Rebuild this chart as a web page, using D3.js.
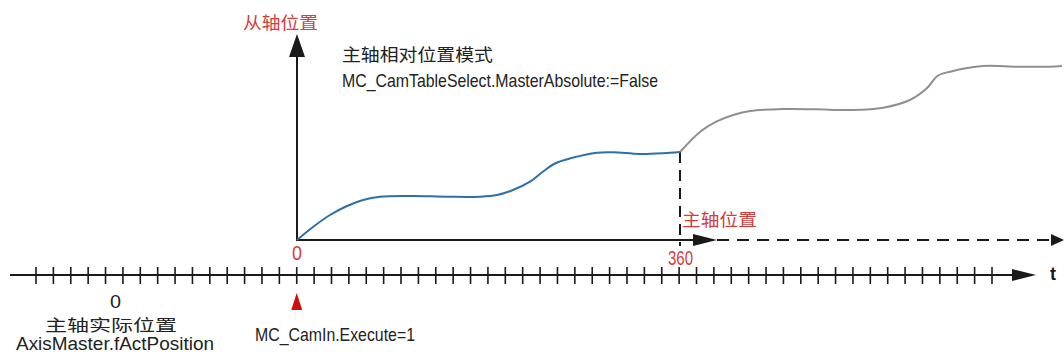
<!DOCTYPE html>
<html>
<head>
<meta charset="utf-8">
<script src="https://cdn.jsdelivr.net/npm/d3@7"></script>
<style>
  body { margin: 0; background: #fff; }
  svg { display: block; }
  text { font-family: "Liberation Sans", Arial, "Noto Sans CJK SC", sans-serif; }
  .cjk { font-family: "Noto Sans CJK SC", sans-serif; }
</style>
</head>
<body>
<div id="chart"></div>
<script>
// master angle (deg) vs slave position, first cam cycle (blue) and next one (gray)
const camMaster1 = [0, 15, 31, 47, 62, 78, 109, 141, 172, 188, 203, 219, 231, 243, 257, 282, 297, 322, 344, 360];
const camSlave1 = [0, 14.8, 28.4, 38.6, 45.5, 49.2, 50, 49.2, 49.2, 51.1, 56.8, 66.3, 77.6, 87.2, 92.8, 99.2, 99.7, 97.7, 98.5, 100];
const camMaster2 = [360, 379, 394, 410, 426, 457, 489, 520, 551, 576, 592, 602, 614, 645, 677, 708, 719];
const camSlave2 = [100, 123, 134.4, 142, 146.6, 148.9, 148.5, 147.7, 150.3, 159.1, 172.4, 186.4, 191.3, 197.7, 196.9, 196.9, 197.7];

// time axis tick marks (index) and marker positions
const timeTicks = d3.range(56);
const camInTick = 15;      // MC_CamIn.Execute=1
const masterTickLabels = [0, 360];

const W = 1064, H = 358;
const svg = d3.select("#chart").append("svg")
    .attr("width", W).attr("height", H);

const x = d3.scaleLinear().domain([0, 720]).range([297, 1063]);
const y = d3.scaleLinear().domain([0, 200]).range([240, 64]);
const t = d3.scaleLinear().domain([0, 55]).range([36, 992]);
const tAxisY = 275;

const red = "#d2403e";
const ink = "#1a1a1a";

// ---- time axis ----
svg.append("line")
    .attr("x1", 10).attr("x2", 1014)
    .attr("y1", tAxisY).attr("y2", tAxisY)
    .attr("stroke", ink).attr("stroke-width", 2);
svg.append("path")
    .attr("d", `M1012,${tAxisY - 6}L1036,${tAxisY}L1012,${tAxisY + 6}Z`)
    .attr("fill", ink);
svg.selectAll(".tick")
    .data(timeTicks)
    .enter().append("line")
    .attr("class", "tick")
    .attr("x1", d => t(d)).attr("x2", d => t(d))
    .attr("y1", tAxisY - 8).attr("y2", tAxisY + 9)
    .attr("stroke", ink).attr("stroke-width", 1.6);
svg.append("text")
    .attr("x", 1053).attr("y", 280)
    .attr("text-anchor", "middle")
    .attr("font-size", 18).attr("font-weight", "bold")
    .attr("fill", ink).text("t");

// CamIn trigger marker
const cx = t(camInTick);
svg.append("path")
    .attr("d", `M${cx},293L${cx + 5.5},310L${cx - 5.5},310Z`)
    .attr("fill", "#cc1010");

// ---- master axis (x) ----
svg.append("line")
    .attr("x1", x(0)).attr("x2", 695)
    .attr("y1", y(0)).attr("y2", y(0))
    .attr("stroke", ink).attr("stroke-width", 2.2);
svg.append("path")
    .attr("d", `M693,${y(0) - 6}L717,${y(0)}L693,${y(0) + 6}Z`)
    .attr("fill", ink);
svg.append("line")
    .attr("x1", 717).attr("x2", 1052)
    .attr("y1", y(0)).attr("y2", y(0))
    .attr("stroke", ink).attr("stroke-width", 2)
    .attr("stroke-dasharray", "12,8");
svg.append("path")
    .attr("d", `M1051,${y(0) - 6}L1064,${y(0)}L1051,${y(0) + 6}Z`)
    .attr("fill", ink);

// ---- slave axis (y) ----
svg.append("line")
    .attr("x1", x(0)).attr("x2", x(0))
    .attr("y1", y(0) + 1).attr("y2", 55)
    .attr("stroke", ink).attr("stroke-width", 2);
svg.append("path")
    .attr("d", `M${x(0) - 8},57L${x(0)},34L${x(0) + 8},57Z`)
    .attr("fill", ink);

// dashed marker at end of first cycle
svg.append("line")
    .attr("x1", x(360)).attr("x2", x(360))
    .attr("y1", y(100)).attr("y2", y(0) + 6)
    .attr("stroke", ink).attr("stroke-width", 2)
    .attr("stroke-dasharray", "11,7");

// ---- cam curves ----
const line = d3.line()
    .x(d => x(d[0])).y(d => y(d[1]))
    .curve(d3.curveCatmullRom.alpha(0.5));

svg.append("path")
    .datum(d3.zip(camMaster2, camSlave2))
    .attr("d", line)
    .attr("fill", "none").attr("stroke", "#8f8f8f").attr("stroke-width", 2);

svg.append("path")
    .datum(d3.zip(camMaster1, camSlave1))
    .attr("d", line)
    .attr("fill", "none").attr("stroke", "#2f6fa8").attr("stroke-width", 2);

// ---- labels ----
function label(txt, px, py, size, color, len, opts = {}) {
    const el = svg.append("text")
        .attr("x", px).attr("y", py)
        .attr("font-size", size)
        .attr("fill", color)
        .attr("text-anchor", opts.anchor || "start")
        .text(txt);
    if (opts.cjk) el.attr("class", "cjk");
    if (len) el.attr("textLength", len).attr("lengthAdjust", "spacingAndGlyphs");
    return el;
}

label("从轴位置", 243, 29, 17, red, 75, { cjk: true });
label("主轴相对位置模式", 342, 61, 17, "#222", 151, { cjk: true });
label("MC_CamTableSelect.MasterAbsolute:=False", 342, 87, 19, "#222", 316);

label(masterTickLabels[0], x(masterTickLabels[0]) - 5, 260, 20, red, 10);
label(masterTickLabels[1], x(masterTickLabels[1]) - 12, 265, 20, red, 25);
label("主轴位置", 682, 226, 17, red, 75, { cjk: true });

label("0", 110, 308, 18, "#222", 11);
label("主轴实际位置", 45, 331, 16, "#222", 132, { cjk: true });
label("AxisMaster.fActPosition", 16, 350, 18, "#222", 198);
label("MC_CamIn.Execute=1", 255, 341, 19, "#222", 160);
</script>
</body>
</html>
